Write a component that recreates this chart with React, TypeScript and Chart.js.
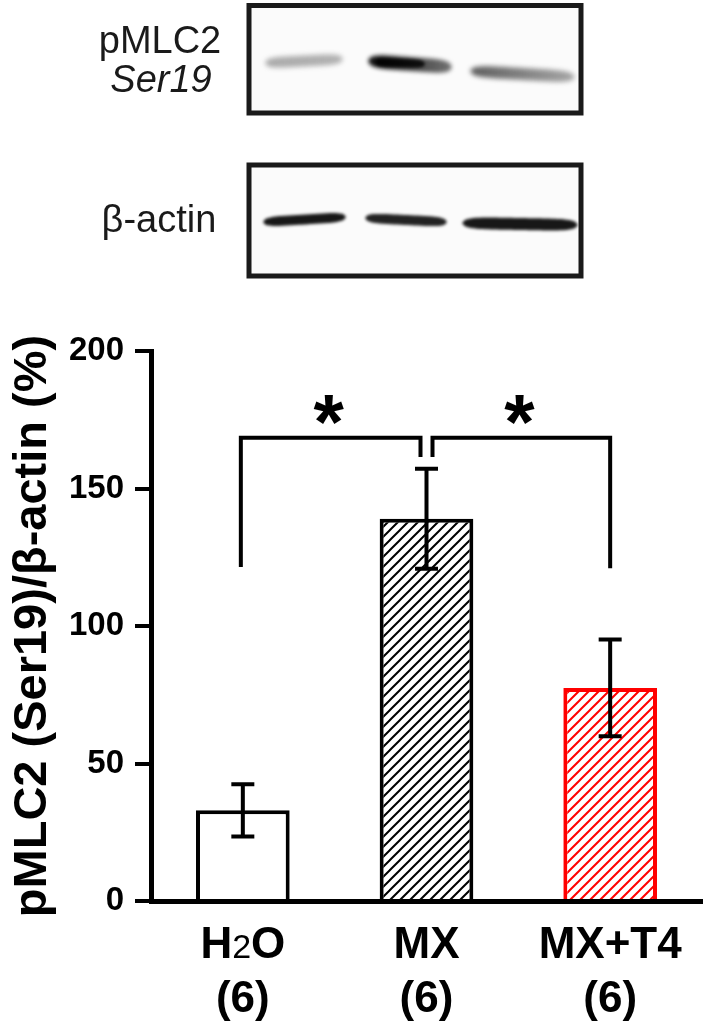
import React, { useEffect, useRef } from 'react';
import { Chart, registerables } from 'chart.js';

Chart.register(...registerables);

// ---------- data ----------
const categories = ['H_2O', 'MX', 'MX+T4']; // "_" marks a subscript character
const groupSizes = ['(6)', '(6)', '(6)'];
const means = [33, 139, 77.5];
const errors = [9.5, 18.2, 17.6];
const yTicks = [0, 50, 100, 150, 200];
const yTitle = 'pMLC2 (Ser19)/β-actin (%)';

// significance brackets
const sigFrom = [0, 1];
const sigTo = [1, 2];
const sigTop = [168.5, 168.5];
const sigFromLeg = [121.5, 161.5];
const sigToLeg = [161.5, 121];
const sigText = ['*', '*'];

// blot labels
const blotLabels = ['pMLC2', 'Ser19', 'β-actin'];

const FONT = '"Liberation Sans", Arial, Helvetica, sans-serif';

function makeHatch(color: string): CanvasPattern | string {
  const s = 10;
  const c = document.createElement('canvas');
  c.width = s;
  c.height = s;
  const g = c.getContext('2d');
  if (!g) return '#fff';
  g.fillStyle = '#ffffff';
  g.fillRect(0, 0, s, s);
  g.strokeStyle = color;
  g.lineWidth = 2;
  g.beginPath();
  g.moveTo(-2, s + 2);
  g.lineTo(s + 2, -2);
  g.moveTo(-2, 2);
  g.lineTo(2, -2);
  g.moveTo(s - 2, s + 2);
  g.lineTo(s + 2, s - 2);
  g.stroke();
  const p = g.createPattern(c, 'repeat');
  return p || '#fff';
}

function drawBand(
  ctx: CanvasRenderingContext2D,
  x1: number,
  x2: number,
  yL: number,
  yR: number,
  thick: number,
  cLeft: string,
  cRight: string,
  blur: number
) {
  ctx.save();
  ctx.filter = `blur(${blur}px)`;
  const grad = ctx.createLinearGradient(x1, 0, x2, 0);
  grad.addColorStop(0, cLeft);
  grad.addColorStop(1, cRight);
  ctx.fillStyle = grad;
  const n = 40;
  ctx.beginPath();
  for (let i = 0; i <= n; i++) {
    const t = i / n;
    const x = x1 + (x2 - x1) * t;
    const yc = yL + (yR - yL) * t;
    const h = (thick / 2) * Math.pow(1 - Math.pow(2 * t - 1, 6), 0.5);
    if (i === 0) ctx.moveTo(x, yc - h);
    else ctx.lineTo(x, yc - h);
  }
  for (let i = n; i >= 0; i--) {
    const t = i / n;
    const x = x1 + (x2 - x1) * t;
    const yc = yL + (yR - yL) * t;
    const h = (thick / 2) * Math.pow(1 - Math.pow(2 * t - 1, 6), 0.5);
    ctx.lineTo(x, yc + h);
  }
  ctx.closePath();
  ctx.fill();
  ctx.restore();
}

const blotPlugin = {
  id: 'blot',
  afterDraw(chart: any) {
    const ctx: CanvasRenderingContext2D = chart.ctx;
    ctx.save();
    // labels
    ctx.fillStyle = '#1a1a1a';
    ctx.textAlign = 'center';
    ctx.textBaseline = 'alphabetic';
    ctx.font = `38px ${FONT}`;
    ctx.fillText(blotLabels[0], 160, 53);
    ctx.font = `italic 38px ${FONT}`;
    ctx.fillText(blotLabels[1], 161, 92);
    ctx.font = `38px ${FONT}`;
    ctx.fillText(blotLabels[2], 159, 232);

    // boxes
    ctx.fillStyle = '#fbfbfb';
    ctx.fillRect(249, 6, 332, 107);
    ctx.fillRect(249, 165, 332, 111);

    // pMLC2 bands
    drawBand(ctx, 265, 343, 63, 59, 11, 'rgba(60,60,60,0.42)', 'rgba(60,60,60,0.38)', 2.5);
    drawBand(ctx, 368, 452, 61, 67, 14, 'rgba(0,0,0,0.95)', 'rgba(40,40,40,0.65)', 2);
    drawBand(ctx, 375, 425, 62, 64, 8, 'rgba(0,0,0,0.9)', 'rgba(0,0,0,0.8)', 1.5);
    drawBand(ctx, 470, 575, 71, 77, 12, 'rgba(30,30,30,0.72)', 'rgba(60,60,60,0.45)', 2.5);

    // beta-actin bands
    drawBand(ctx, 263, 346, 222, 217, 10, 'rgba(10,10,10,0.95)', 'rgba(10,10,10,0.95)', 1.8);
    drawBand(ctx, 365, 447, 218, 222, 10, 'rgba(15,15,15,0.92)', 'rgba(15,15,15,0.92)', 1.8);
    drawBand(ctx, 462, 578, 223, 225, 12, 'rgba(10,10,10,0.95)', 'rgba(10,10,10,0.95)', 1.8);

    ctx.strokeStyle = '#1a1a1a';
    ctx.lineWidth = 5;
    ctx.strokeRect(249, 5.5, 332, 107.5);
    ctx.strokeRect(249, 165, 332, 111);
    ctx.restore();
  },
};

const errorBarPlugin = {
  id: 'errorBars',
  afterDatasetsDraw(chart: any) {
    const ctx: CanvasRenderingContext2D = chart.ctx;
    const y = chart.scales.y;
    const meta = chart.getDatasetMeta(0);
    ctx.save();
    ctx.strokeStyle = '#000';
    ctx.lineWidth = 4;
    ctx.lineCap = 'butt';
    meta.data.forEach((bar: any, i: number) => {
      const x = bar.x;
      const yT = y.getPixelForValue(means[i] + errors[i]);
      const yB = y.getPixelForValue(means[i] - errors[i]);
      ctx.beginPath();
      ctx.moveTo(x, yT);
      ctx.lineTo(x, yB);
      ctx.moveTo(x - 11.5, yT);
      ctx.lineTo(x + 11.5, yT);
      ctx.moveTo(x - 11.5, yB);
      ctx.lineTo(x + 11.5, yB);
      ctx.stroke();
    });
    ctx.restore();
  },
};

const sigPlugin = {
  id: 'sig',
  afterDatasetsDraw(chart: any) {
    const ctx: CanvasRenderingContext2D = chart.ctx;
    const y = chart.scales.y;
    const meta = chart.getDatasetMeta(0);
    const gap = 6;
    ctx.save();
    ctx.strokeStyle = '#000';
    ctx.fillStyle = '#000';
    ctx.lineWidth = 4;
    ctx.lineJoin = 'miter';
    ctx.lineCap = 'butt';
    for (let k = 0; k < sigFrom.length; k++) {
      let xa = meta.data[sigFrom[k]].x;
      let xb = meta.data[sigTo[k]].x;
      if (sigTo.includes(sigFrom[k])) xa += gap;
      else xa -= 2;
      if (sigFrom.includes(sigTo[k])) xb -= gap;
      const yTop = y.getPixelForValue(sigTop[k]);
      ctx.beginPath();
      ctx.moveTo(xa, y.getPixelForValue(sigFromLeg[k]));
      ctx.lineTo(xa, yTop);
      ctx.lineTo(xb, yTop);
      ctx.lineTo(xb, y.getPixelForValue(sigToLeg[k]));
      ctx.stroke();

      ctx.font = `bold 78px ${FONT}`;
      ctx.textAlign = 'center';
      ctx.textBaseline = 'alphabetic';
      const m = ctx.measureText(sigText[k]);
      const cy = yTop - 28;
      const base = cy + (m.actualBoundingBoxAscent - m.actualBoundingBoxDescent) / 2;
      ctx.fillText(sigText[k], (xa + xb) / 2 - 2, base);
    }
    ctx.restore();
  },
};

const xLabelPlugin = {
  id: 'xLabels',
  afterDraw(chart: any) {
    const ctx: CanvasRenderingContext2D = chart.ctx;
    const xs = chart.scales.x;
    const base1 = xs.top + 57;
    const base2 = xs.top + 111;
    const mainFont = `bold 44px ${FONT}`;
    const subFont = `34px ${FONT}`;
    ctx.save();
    ctx.fillStyle = '#000';
    ctx.textBaseline = 'alphabetic';
    categories.forEach((label, i) => {
      const cx = xs.getPixelForValue(i);
      const segs: { t: string; sub: boolean }[] = [];
      for (let j = 0; j < label.length; j++) {
        if (label[j] === '_' && j + 1 < label.length) {
          segs.push({ t: label[j + 1], sub: true });
          j++;
        } else {
          segs.push({ t: label[j], sub: false });
        }
      }
      let total = 0;
      const widths = segs.map((s) => {
        ctx.font = s.sub ? subFont : mainFont;
        const w = ctx.measureText(s.t).width;
        total += w;
        return w;
      });
      let x = cx - total / 2;
      ctx.textAlign = 'left';
      segs.forEach((s, j) => {
        ctx.font = s.sub ? subFont : mainFont;
        ctx.fillText(s.t, x, base1);
        x += widths[j];
      });
      ctx.font = mainFont;
      ctx.textAlign = 'center';
      ctx.fillText(groupSizes[i], cx, base2);
    });
    ctx.restore();
  },
};

export default function App() {
  const ref = useRef<HTMLCanvasElement | null>(null);
  useEffect(() => {
    if (!ref.current) return;
    const hatchBlack = makeHatch('#000000');
    const hatchRed = makeHatch('#ff0000');
    const chart = new Chart(ref.current, {
      type: 'bar',
      data: {
        labels: categories.map((c) => c.replace('_', '')),
        datasets: [
          {
            data: means,
            backgroundColor: ['#ffffff', hatchBlack, hatchRed] as any,
            borderColor: ['#000000', '#000000', '#ff0000'],
            borderWidth: 4,
            borderSkipped: 'start',
            barPercentage: 0.51,
            categoryPercentage: 1,
          },
        ],
      },
      options: {
        responsive: false,
        animation: false,
        devicePixelRatio: 1,
        layout: { padding: { top: 351, right: 6, left: 0, bottom: 0 } },
        plugins: { legend: { display: false }, tooltip: { enabled: false } },
        scales: {
          x: {
            grid: { display: false, drawTicks: false },
            border: { display: true, color: '#000', width: 5 },
            ticks: { display: false },
            afterFit: (s: any) => {
              s.height = 125;
            },
          },
          y: {
            min: 0,
            max: 200,
            afterBuildTicks: (s: any) => {
              s.ticks = yTicks.map((v) => ({ value: v }));
            },
            grid: {
              display: true,
              drawOnChartArea: false,
              drawTicks: true,
              tickLength: 16,
              color: '#000',
              lineWidth: 4,
            },
            border: { display: true, color: '#000', width: 5 },
            ticks: {
              color: '#000',
              font: { family: FONT, size: 33, weight: 'bold' },
              padding: 11,
            },
            title: {
              display: true,
              text: yTitle,
              color: '#000',
              font: { family: FONT, size: 47, weight: 'bold' },
              padding: { top: 5, bottom: 0 },
            },
            afterFit: (s: any) => {
              s.width = 151;
            },
          },
        },
      } as any,
      plugins: [blotPlugin, errorBarPlugin, sigPlugin, xLabelPlugin],
    });
    return () => chart.destroy();
  }, []);
  return (
    <div style={{ position: 'absolute', left: 0, top: 0, width: 708, height: 1026, background: '#fff' }}>
      <canvas ref={ref} width={708} height={1026} />
    </div>
  );
}
